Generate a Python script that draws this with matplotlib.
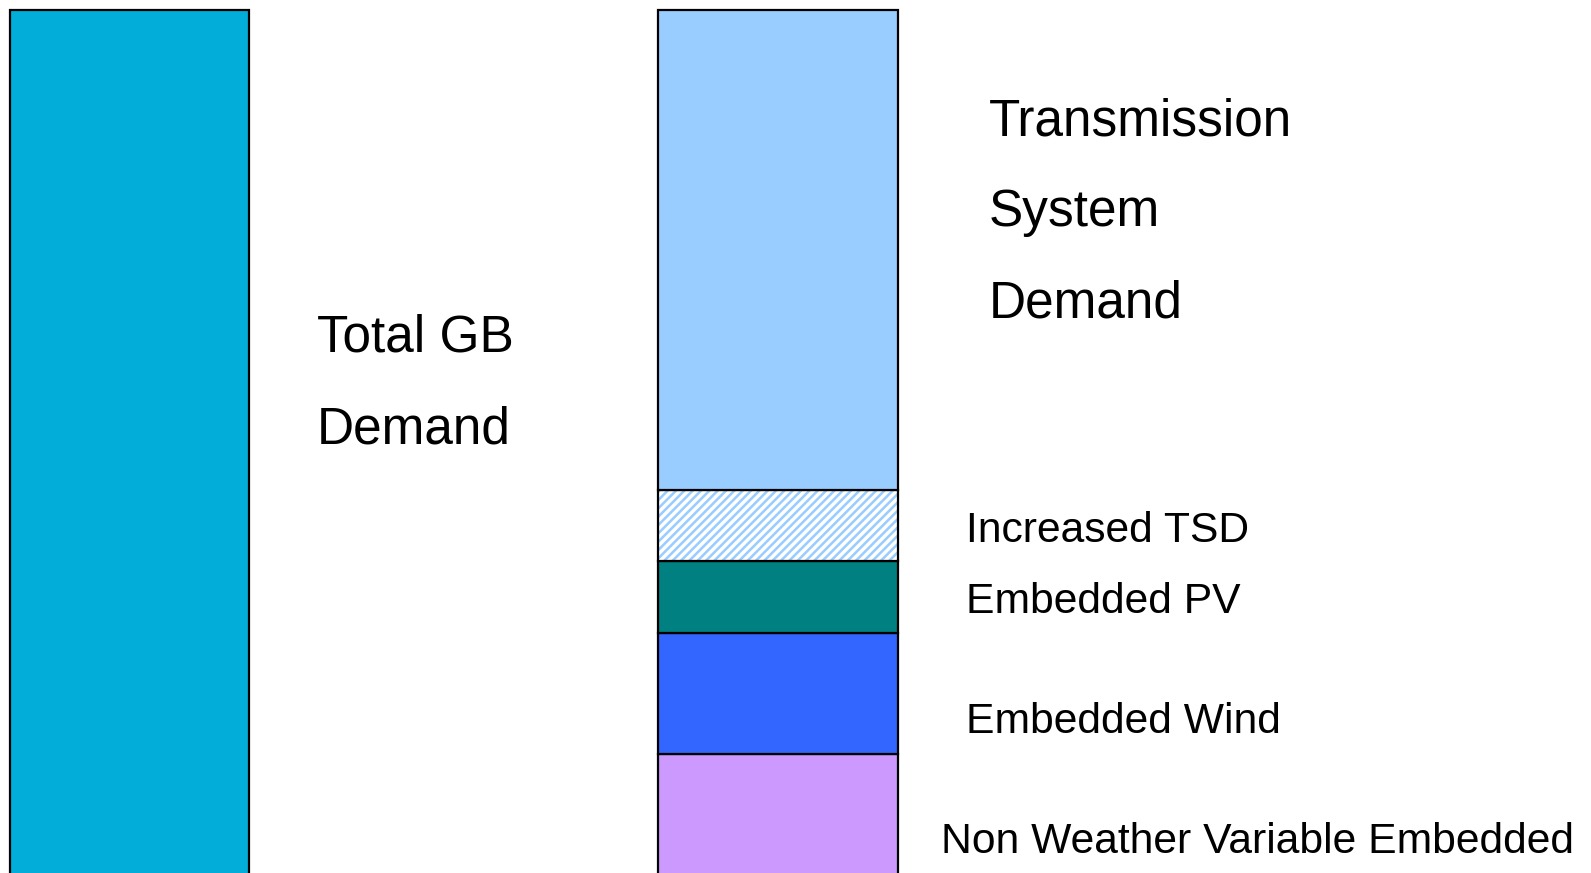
import matplotlib
matplotlib.use("Agg")
import matplotlib.pyplot as plt

plt.rcParams["font.family"] = ["Liberation Sans", "DejaVu Sans"]
plt.rcParams["hatch.linewidth"] = 1.8

# Demand components (arbitrary units), stacked bottom to top
segments = ["Non Weather Variable Embedded", "Embedded Wind", "Embedded PV",
            "Increased TSD", "Transmission System Demand"]
segment_values = [129, 121, 72, 71, 480]
segment_colors = ["#CC99FF", "#3366FF", "#008080", "#99CCFF", "#99CCFF"]
segment_hatch = [None, None, None, "////", None]

total_label = "Total GB Demand"
total_value = sum(segment_values)
total_color = "#02AED9"

fig = plt.figure(figsize=(15.91, 8.73), dpi=100)
ax = fig.add_axes([0, 0, 1, 1])
ax.set_xlim(-0.1997, 2.2537)
ax.set_ylim(10, 883)
ax.axis("off")

width = 0.3686
ax.bar(0, total_value, width=width, color=total_color,
       edgecolor="black", linewidth=1.6)

bottom = 0
for val, col, h in zip(segment_values, segment_colors, segment_hatch):
    if h:
        ax.bar(1, val, width=width, bottom=bottom, color="white",
               edgecolor=col, hatch=h, linewidth=0)
        ax.bar(1, val, width=width, bottom=bottom, fill=False,
               edgecolor="black", linewidth=1.6)
    else:
        ax.bar(1, val, width=width, bottom=bottom, color=col,
               edgecolor="black", linewidth=1.6)
    bottom += val

W, H = 1591.0, 873.0


def label(x, y, s, size):
    fig.text(x / W, 1 - y / H, s, fontsize=size, ha="left", va="baseline",
             color="black")


big, small = 37.0, 30.7
label(317, 352, "Total GB", big)
label(317, 443, "Demand", big)
label(989, 136, "Transmission", big)
label(989, 226, "System", big)
label(989, 317, "Demand", big)
label(966, 542, "Increased TSD", small)
label(966, 613, "Embedded PV", small)
label(966, 733, "Embedded Wind", small)
label(941, 853, "Non Weather Variable Embedded", small)

fig.savefig("out.png", dpi=100)
